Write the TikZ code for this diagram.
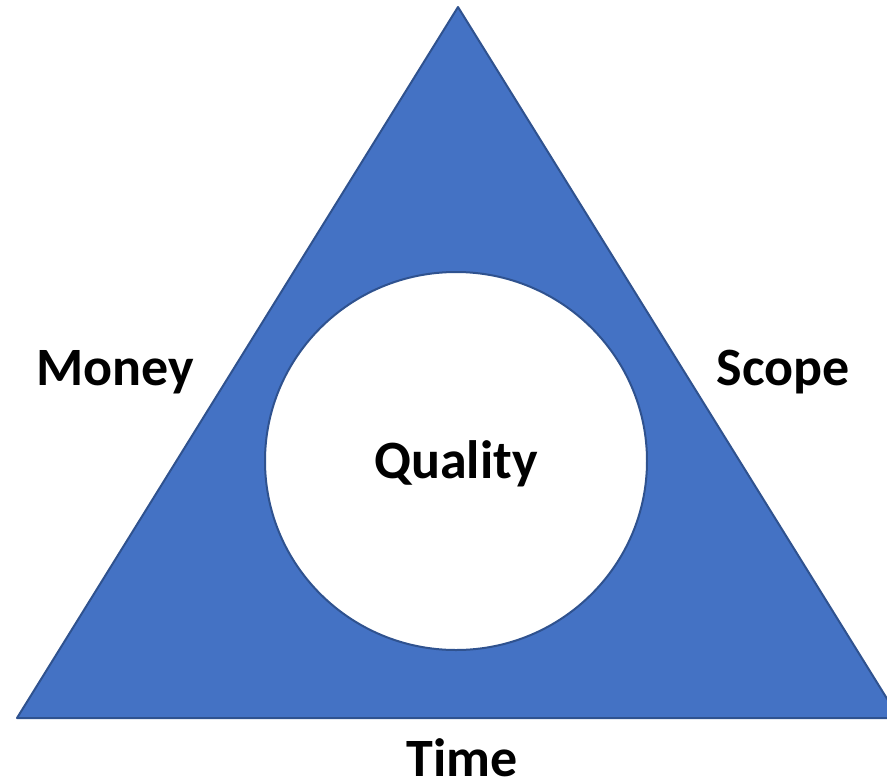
\documentclass[tikz,border=0pt]{standalone}
\usepackage{fontspec}
\setmainfont{Carlito}
\definecolor{fillblue}{HTML}{4472C4}
\definecolor{edgeblue}{HTML}{2F528F}
\tikzset{
  label/.style={font=\fontsize{54}{62}\selectfont\bfseries, inner sep=0pt}
}

\begin{document}
\begin{tikzpicture}[x=1pt,y=-1pt]
  \useasboundingbox (0,0) rectangle (887,780);
  \coordinate (apex) at (458,7);
  \coordinate (left) at (17,718);
  \coordinate (right) at (899,718);
  \draw [fill=fillblue, draw=edgeblue, line width=2pt, line join=round]
    (apex) -- (right) -- (left) -- cycle;
  \draw [fill=white, draw=edgeblue, line width=2pt] (456,461) ellipse (191 and 189);
  \node [label] (quality) at (456,464) {Quality};
  \node [label] (money) at (115,372) {Money};
  \node [label] (scope) at (783,372) {Scope};
  \node [label] (time) at (462,758) {Time};
\end{tikzpicture}
\end{document}
